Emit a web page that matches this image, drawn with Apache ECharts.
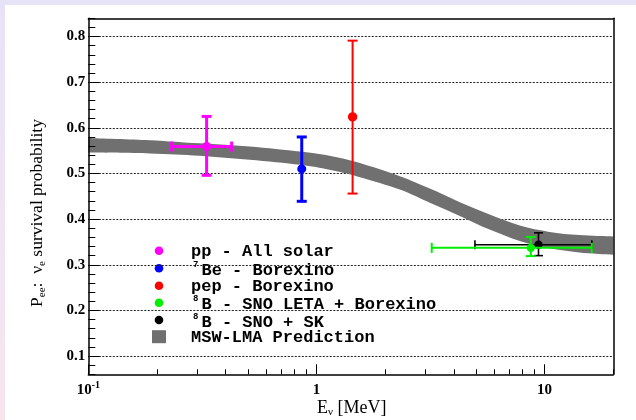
<!DOCTYPE html>
<html><head><meta charset="utf-8">
<script src="https://cdn.jsdelivr.net/npm/echarts@6/dist/echarts.min.js"></script>
<style>
html,body{margin:0;padding:0;width:636px;height:420px;overflow:hidden;background:linear-gradient(180deg,#e7e3f6 0%,#efe5f3 55%,#f7e5ec 100%);}
#chart{position:absolute;left:5px;top:5px;width:631px;height:415px;background:#fff;}
</style></head><body><div id="chart"></div>
<script>
// ---- data ----
const bandEnergy = [0.1, 0.186, 0.308, 0.51, 0.845, 1.14, 1.55, 2.32, 3.14, 4.25, 5.74, 7.78, 10.5, 14.2, 20];
const bandUpper  = [0.578, 0.573, 0.566, 0.559, 0.548, 0.539, 0.523, 0.494, 0.467, 0.437, 0.410, 0.386, 0.372, 0.365, 0.362];
const bandLower  = [0.546, 0.544, 0.539, 0.530, 0.519, 0.508, 0.492, 0.465, 0.436, 0.407, 0.377, 0.352, 0.336, 0.327, 0.322];

const pointNames  = ['pp - All solar', 'Be - Borexino', 'pep - Borexino', 'B - SNO LETA + Borexino', 'B - SNO + SK'];
const pointSup    = ['', '7', '', '8', '8'];
const pointEnergy = [0.33, 0.862, 1.44, 8.7, 9.4];
const pointProb   = [0.559, 0.510, 0.624, 0.337, 0.344];
const probLow     = [0.496, 0.439, 0.456, 0.319, 0.320];
const probHigh    = [0.625, 0.580, 0.791, 0.361, 0.370];
const energyLow   = [0.232, null, null, 3.2, 4.95];
const energyHigh  = [0.425, null, null, 16.1, 16.1];
const bandName = 'MSW-LMA Prediction';

const xTickValues = [0.1, 1, 10];
const xTickLabels = ['{b|10}{sup|-1}', '{b|1}', '{b|10}'];
const xMinorTicks = [0.2,0.3,0.4,0.5,0.6,0.7,0.8,0.9,2,3,4,5,6,7,8,9,20];
const yMajorTicks = [0.1,0.2,0.3,0.4,0.5,0.6,0.7,0.8];
const yTickLabels = ['0.1','0.2','0.3','0.4','0.5','0.6','0.7','0.8'];

// ---- styles ----
const pointColors = ['#ff00ff', '#0000ff', '#ff0000', '#00ee00', '#000000'];
const pointStyle = [
  {w: 3, cap: 5, r: 4.5, z: 12},
  {w: 3, cap: 5, r: 4.5, z: 12},
  {w: 2, cap: 5, r: 4.7, z: 12},
  {w: 2, cap: 5, r: 4.2, z: 11},
  {w: 1.6, cap: 4.5, r: 4.2, z: 10}
];
const bandColor = '#707070';
const serif = 'Liberation Serif';

const chart = echarts.init(document.getElementById('chart'));

function errSeries(i) {
  return {
    type: 'custom', name: pointNames[i], xAxisIndex: 0, yAxisIndex: 0, z: pointStyle[i].z,
    clip: false,
    data: [[pointEnergy[i], pointProb[i], probLow[i], probHigh[i], energyLow[i], energyHigh[i]]],
    renderItem: function (params, api) {
      const st = pointStyle[i], col = pointColors[i];
      const e = api.value(0), p = api.value(1);
      const c = api.coord([e, p]);
      const t = api.coord([e, api.value(3)]), b = api.coord([e, api.value(2)]);
      const ls = {stroke: col, lineWidth: st.w, fill: null};
      const kids = [
        {type: 'line', shape: {x1: c[0], y1: t[1], x2: c[0], y2: b[1]}, style: ls},
        {type: 'line', shape: {x1: c[0]-st.cap, y1: t[1], x2: c[0]+st.cap, y2: t[1]}, style: ls},
        {type: 'line', shape: {x1: c[0]-st.cap, y1: b[1], x2: c[0]+st.cap, y2: b[1]}, style: ls}
      ];
      const elo = api.value(4), ehi = api.value(5);
      if (isFinite(elo) && isFinite(ehi) && elo > 0) {
        const l = api.coord([elo, p]), r = api.coord([ehi, p]);
        kids.push({type: 'line', shape: {x1: l[0], y1: c[1], x2: r[0], y2: c[1]}, style: ls});
        kids.push({type: 'line', shape: {x1: l[0], y1: c[1]-st.cap, x2: l[0], y2: c[1]+st.cap}, style: ls});
        kids.push({type: 'line', shape: {x1: r[0], y1: c[1]-st.cap, x2: r[0], y2: c[1]+st.cap}, style: ls});
      }
      kids.push({type: 'circle', shape: {cx: c[0], cy: c[1], r: st.r}, style: {fill: col}});
      return {type: 'group', children: kids};
    }
  };
}

// smooth (Catmull-Rom) bezier path through a list of screen points
function curveThrough(pts, startCmd) {
  let d = startCmd + pts[0][0].toFixed(2) + ' ' + pts[0][1].toFixed(2);
  for (let k = 0; k < pts.length - 1; k++) {
    const p0 = pts[Math.max(k - 1, 0)], p1 = pts[k], p2 = pts[k + 1], p3 = pts[Math.min(k + 2, pts.length - 1)];
    const c1 = [p1[0] + (p2[0] - p0[0]) / 6, p1[1] + (p2[1] - p0[1]) / 6];
    const c2 = [p2[0] - (p3[0] - p1[0]) / 6, p2[1] - (p3[1] - p1[1]) / 6];
    d += ' C' + c1[0].toFixed(2) + ' ' + c1[1].toFixed(2) + ' ' + c2[0].toFixed(2) + ' ' + c2[1].toFixed(2) + ' ' + p2[0].toFixed(2) + ' ' + p2[1].toFixed(2);
  }
  return d;
}

const bandSeries = {
  type: 'custom', name: bandName, xAxisIndex: 0, yAxisIndex: 0, z: 5,
  data: bandEnergy.map((e, k) => [e, bandLower[k], bandUpper[k]]),
  renderItem: function (params, api) {
    if (params.dataIndex !== 0) return null;
    const up = [], lo = [];
    for (let k = 0; k < bandEnergy.length; k++) up.push(api.coord([bandEnergy[k], bandUpper[k]]));
    for (let k = bandEnergy.length - 1; k >= 0; k--) lo.push(api.coord([bandEnergy[k], bandLower[k]]));
    const d = curveThrough(up, 'M') + ' ' + curveThrough(lo, 'L') + ' Z';
    return {type: 'path', shape: {pathData: d}, style: {fill: bandColor, stroke: null}};
  }
};

// legend (graphic)
const legendX = 154, legendRows = [245.7, 263.3, 280.7, 297.7, 315, 331.7];
const legendEls = [];
pointNames.forEach((nm, i) => {
  const y = legendRows[i];
  legendEls.push({type: 'circle', shape: {cx: legendX, cy: y, r: 4.3}, style: {fill: pointColors[i]}});
  if (pointSup[i]) {
    legendEls.push({type: 'text', x: 188, y: y - 3.5, style: {text: pointSup[i], font: 'bold 9px "Liberation Mono"', fill: '#000', align: 'left', verticalAlign: 'middle'}});
    legendEls.push({type: 'text', x: 196.5, y: y + 2.5, style: {text: nm, font: 'bold 17px "Liberation Mono"', fill: '#000', align: 'left', verticalAlign: 'middle'}});
  } else {
    legendEls.push({type: 'text', x: 186, y: y + 1, style: {text: nm, font: 'bold 17px "Liberation Mono"', fill: '#000', align: 'left', verticalAlign: 'middle'}});
  }
});
legendEls.push({type: 'rect', shape: {x: legendX - 7, y: legendRows[5] - 6.5, width: 14, height: 13}, style: {fill: bandColor}});
legendEls.push({type: 'text', x: 186, y: legendRows[5] + 1, style: {text: bandName, font: 'bold 17px "Liberation Mono"', fill: '#000', align: 'left', verticalAlign: 'middle'}});

const frameLine = {show: true, lineStyle: {color: '#000', width: 1.5}};
const xBase = {type: 'log', logBase: 10, min: 0.1, max: 20, gridIndex: 0};
const yBase = {type: 'value', min: 0.06, max: 0.84, gridIndex: 0};

chart.setOption({
  animation: false,
  grid: {left: 83.3, right: 22.7, top: 13.3, bottom: 45.7, containLabel: false},
  xAxis: [
    Object.assign({}, xBase, {
      position: 'bottom', z: 20, axisLine: frameLine,
      axisTick: {show: true, inside: true, length: 5, customValues: xMinorTicks, lineStyle: {color: '#000', width: 1}},
      axisLabel: {show: true, customValues: xTickValues, margin: 6,
        formatter: function (v) { const k = xTickValues.findIndex(t => Math.abs(Math.log10(t) - Math.log10(v)) < 1e-6); return k < 0 ? '' : xTickLabels[k]; },
        rich: {
          b: {fontFamily: serif, fontWeight: 'bold', fontSize: 15, lineHeight: 20, color: '#000'},
          sup: {fontFamily: serif, fontWeight: 'bold', fontSize: 10, lineHeight: 10, verticalAlign: 'top', color: '#000'}
        }},
      splitLine: {show: false}, minorTick: {show: false}
    }),
    Object.assign({}, xBase, {
      position: 'bottom', z: 20, axisLine: {show: false},
      axisTick: {show: true, inside: true, length: 10, customValues: xTickValues, lineStyle: {color: '#000', width: 1}},
      axisLabel: {show: false}, splitLine: {show: false}
    }),
    Object.assign({}, xBase, {
      position: 'top', z: 20, axisLine: frameLine, axisTick: {show: false}, axisLabel: {show: false}, splitLine: {show: false}
    })
  ],
  yAxis: [
    Object.assign({}, yBase, {
      position: 'left', interval: 0.02, z: 20, axisLine: frameLine,
      axisTick: {show: true, inside: true, length: 7, lineStyle: {color: '#000', width: 1}},
      axisLabel: {show: false}, splitLine: {show: false}
    }),
    Object.assign({}, yBase, {
      position: 'left', z: 1, axisLine: {show: false},
      axisTick: {show: true, inside: true, length: 11, customValues: yMajorTicks, lineStyle: {color: '#000', width: 1}},
      axisLabel: {show: true, customValues: yMajorTicks, margin: 3,
        formatter: function (v) { const k = yMajorTicks.findIndex(t => Math.abs(t - v) < 1e-6); return k < 0 ? '' : yTickLabels[k]; },
        fontFamily: serif, fontWeight: 'bold', fontSize: 15, color: '#000'},
      splitLine: {show: true, lineStyle: {color: '#222', width: 1, type: [2, 1.5]}}
    }),
    Object.assign({}, yBase, {
      position: 'right', z: 20, axisLine: frameLine, axisTick: {show: false}, axisLabel: {show: false}, splitLine: {show: false}
    })
  ],
  graphic: [
    {type: 'text', x: 32, y: 208, rotation: Math.PI / 2, z: 30,
      style: {text: '{m|P}{s|ee}{m|:  ν}{s|e}{m| survival probability}', align: 'center', verticalAlign: 'middle', fill: '#000',
        rich: {m: {fontFamily: serif, fontSize: 17.5, lineHeight: 21, fill: '#000'}, s: {fontFamily: serif, fontSize: 11, lineHeight: 11, verticalAlign: 'bottom', fill: '#000'}}}},
    {type: 'text', x: 312, y: 403, z: 30,
      style: {text: '{m|E}{s|ν}{m| [MeV]}', align: 'left', verticalAlign: 'middle', fill: '#000',
        rich: {m: {fontFamily: serif, fontSize: 18, lineHeight: 20, fill: '#000'}, s: {fontFamily: serif, fontSize: 11, lineHeight: 11, verticalAlign: 'bottom', fill: '#000'}}}},
    {type: 'group', z: 30, children: legendEls}
  ],
  series: [bandSeries, errSeries(4), errSeries(3), errSeries(0), errSeries(1), errSeries(2)]
});
</script></body></html>
